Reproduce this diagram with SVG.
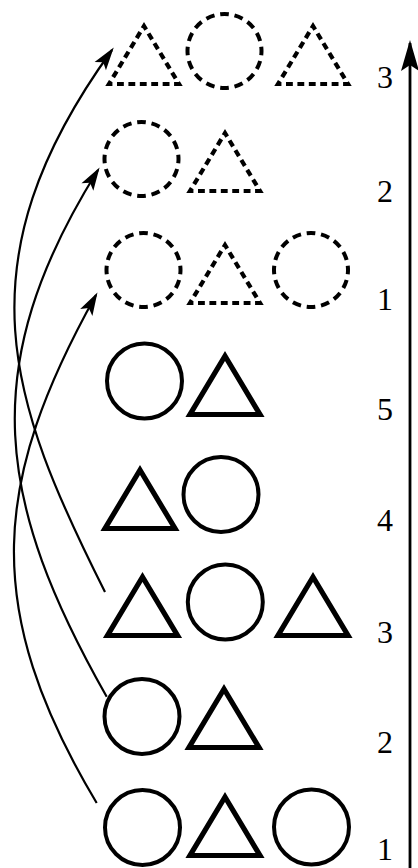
<svg xmlns="http://www.w3.org/2000/svg" width="418" height="868" viewBox="0 0 418 868">
<style>
.c{fill:none;stroke:#000;stroke-width:4}
.t{fill:none;stroke:#000;stroke-width:5.2;stroke-linejoin:miter;stroke-miterlimit:10}
.dc{fill:none;stroke:#000;stroke-width:4;stroke-dasharray:0.6 0.4;stroke-dashoffset:0.3}
.dt{fill:none;stroke:#000;stroke-width:4.2;stroke-linejoin:miter;stroke-miterlimit:10;stroke-dasharray:0.6 0.4;stroke-dashoffset:0.3}
.lbl{font-family:"Liberation Serif","DejaVu Serif",serif;font-size:32px;text-anchor:middle;fill:#000}
.conn{fill:none;stroke:#000;stroke-width:2.2}
.axis{fill:none;stroke:#000;stroke-width:2.8}
</style>
<defs>
<marker id="ah" markerUnits="userSpaceOnUse" orient="auto" refX="0" refY="0" markerWidth="1" markerHeight="1" overflow="visible"><path d="M3,0 L-20,-7 L-15,0 L-20,7 Z" fill="#000"/></marker>
<marker id="ax" markerUnits="userSpaceOnUse" orient="auto" refX="0" refY="0" markerWidth="1" markerHeight="1" overflow="visible"><path d="M3,0 L-28,-9 L-22,0 L-28,9 Z" fill="#000"/></marker>
</defs>

<g id="axis">
<path class="axis" d="M410,868 L410,43" marker-end="url(#ax)"/>
</g>

<g id="row-top-3">
<path class="dt" pathLength="18" transform="translate(144,84)" d="M-35,0 L35,0 L0,-58 Z"/>
<circle class="dc" pathLength="16" cx="224.5" cy="51" r="37"/>
<path class="dt" pathLength="18" transform="translate(313,84)" d="M-35,0 L35,0 L0,-58 Z"/>
<text class="lbl" x="385" y="88">3</text>
</g>

<g id="row-top-2">
<circle class="dc" pathLength="16" cx="141.5" cy="159" r="37"/>
<path class="dt" pathLength="18" transform="translate(225,191)" d="M-35,0 L35,0 L0,-58 Z"/>
<text class="lbl" x="385" y="202">2</text>
</g>

<g id="row-top-1">
<circle class="dc" pathLength="16" cx="143.5" cy="270" r="37"/>
<path class="dt" pathLength="18" transform="translate(225,303)" d="M-35,0 L35,0 L0,-58 Z"/>
<circle class="dc" pathLength="16" cx="311" cy="270" r="37"/>
<text class="lbl" x="385" y="310">1</text>
</g>

<g id="row-5">
<circle class="c" cx="144.5" cy="381" r="37.5"/>
<path class="t" transform="translate(225,414.5)" d="M-35,0 L35,0 L0,-58.5 Z"/>
<text class="lbl" x="385" y="420">5</text>
</g>

<g id="row-4">
<path class="t" transform="translate(140,528.5)" d="M-35,0 L35,0 L0,-58.5 Z"/>
<circle class="c" cx="221" cy="494.5" r="37.5"/>
<text class="lbl" x="385" y="531">4</text>
</g>

<g id="row-3">
<path class="t" transform="translate(142.5,635.5)" d="M-35,0 L35,0 L0,-58.5 Z"/>
<circle class="c" cx="225.3" cy="602" r="37.5"/>
<path class="t" transform="translate(313,635.5)" d="M-35,0 L35,0 L0,-58.5 Z"/>
<text class="lbl" x="385" y="643">3</text>
</g>

<g id="row-2">
<circle class="c" cx="142" cy="716.5" r="37.5"/>
<path class="t" transform="translate(224,747.5)" d="M-35,0 L35,0 L0,-58.5 Z"/>
<text class="lbl" x="385" y="753">2</text>
</g>

<g id="row-1">
<circle class="c" cx="142.5" cy="827.5" r="37.5"/>
<path class="t" transform="translate(225,855.5)" d="M-35,0 L35,0 L0,-58.5 Z"/>
<circle class="c" cx="311.5" cy="827" r="37.5"/>
<text class="lbl" x="385" y="860">1</text>
</g>

<g id="connectors">
<path class="conn" d="M105,592 C10,403 -42,263 112,50" marker-end="url(#ah)"/>
<path class="conn" d="M106.7,696.7 C-2.5,503.8 -25.3,367.3 98,170" marker-end="url(#ah)"/>
<path class="conn" d="M96.7,803 C-20.2,607.6 -6.7,479.8 96,295" marker-end="url(#ah)"/>
</g>
</svg>
